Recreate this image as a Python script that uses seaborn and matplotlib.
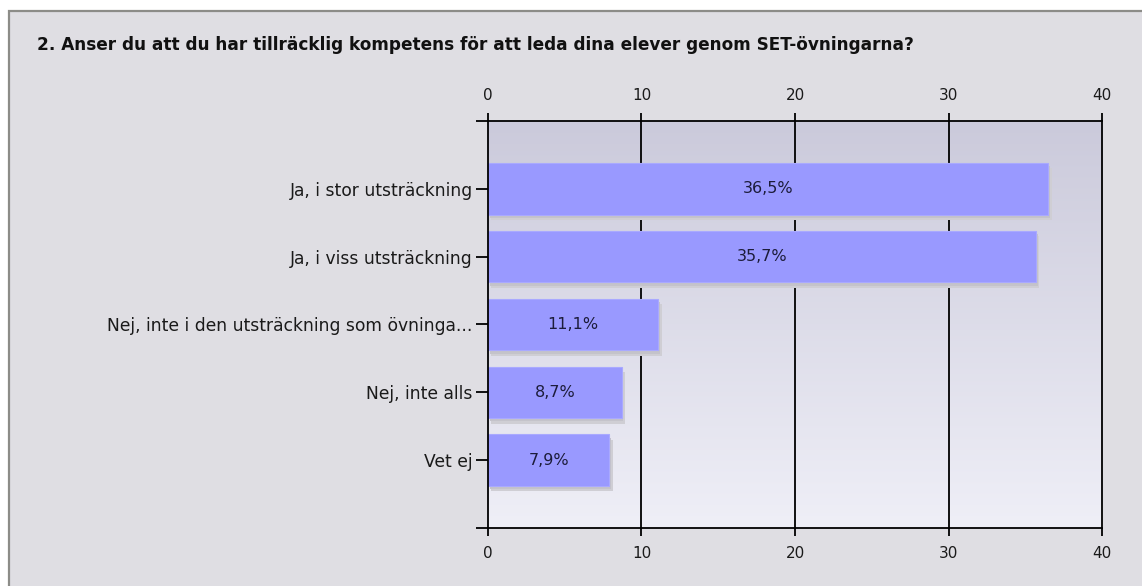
import numpy as np
import pandas as pd
import matplotlib
matplotlib.use('Agg')
import matplotlib.pyplot as plt
from matplotlib.patches import Rectangle
from matplotlib.colors import LinearSegmentedColormap
import seaborn as sns

# data
title = '2. Anser du att du har tillräcklig kompetens för att leda dina elever genom SET-övningarna?'
categories = ['Ja, i stor utsträckning',
              'Ja, i viss utsträckning',
              'Nej, inte i den utsträckning som övninga...',
              'Nej, inte alls',
              'Vet ej']
percent = [36.5, 35.7, 11.1, 8.7, 7.9]
x_ticks = [0, 10, 20, 30, 40]

df = pd.DataFrame({'svar': categories, 'procent': percent})

sns.set_style('white')
plt.rcParams['font.family'] = ['DejaVu Sans']

fig = plt.figure(figsize=(11.42, 5.86), dpi=100, facecolor='white')
# grey panel with a border on the top and left
fig.patches.append(Rectangle((0.0075, -0.05), 1.1, 1.032, transform=fig.transFigure,
                             facecolor='#dfdee3', edgecolor='#8c8c88', linewidth=1.6, zorder=-1))

ax = fig.add_axes([0.4273, 0.099, 0.5377, 0.6945])

# gradient plot background
bg = LinearSegmentedColormap.from_list('bg', ['#cbcadb', '#efeff7'])
ax.imshow(np.linspace(0, 1, 256).reshape(-1, 1), cmap=bg, extent=[0, 40, 5, -1],
          aspect='auto', zorder=0)

# gridlines
for t in x_ticks[1:-1]:
    ax.axvline(t, color='black', lw=1.3, zorder=1)

sns.barplot(data=df, x='procent', y='svar', orient='h', color='#9999ff', saturation=1,
            width=0.76, edgecolor='#a9a9ff', linewidth=0.8, ax=ax, zorder=3)
bars = ax.containers[0]

# drop shadow
ax.barh(np.arange(len(percent)) + 0.08, percent, height=0.76, left=0.22,
        color='#cfced4', linewidth=0, zorder=2)
ax.barh(np.arange(len(percent)) + 0.05, percent, height=0.76, left=0.12,
        color='#c4c3ca', linewidth=0, zorder=2.1)

ax.bar_label(bars, labels=[f'{v:.1f}%'.replace('.', ',') for v in percent],
             label_type='center', fontsize=11.5, color='#1c1c3a')

ax.set_xlim(0, 40)
ax.set_ylim(5, -1)
ax.set_xticks(x_ticks)
ax.set_yticks(range(len(categories)))
ax.set_yticklabels(categories)
ax.set_yticks([-1, 5], minor=True)
ax.set_xlabel('')
ax.set_ylabel('')

ax.tick_params(axis='x', which='major', top=True, labeltop=True, bottom=True, labelbottom=True,
               direction='out', length=6, width=1.3, color='black', labelsize=11,
               labelcolor='#1a1a1a', pad=7)
ax.tick_params(axis='y', which='both', left=True, direction='out', length=9, width=1.3,
               color='black', labelsize=12.3, labelcolor='#1a1a1a', pad=2)

for s in ax.spines.values():
    s.set_visible(True)
    s.set_color('black')
    s.set_linewidth(1.3)
    s.set_zorder(5)

fig.text(37 / 1142, 1 - 45 / 586, title, fontsize=12.2, fontweight='bold',
         color='#111111', ha='left', va='center')

fig.savefig('out.png', dpi=100, facecolor=fig.get_facecolor())
